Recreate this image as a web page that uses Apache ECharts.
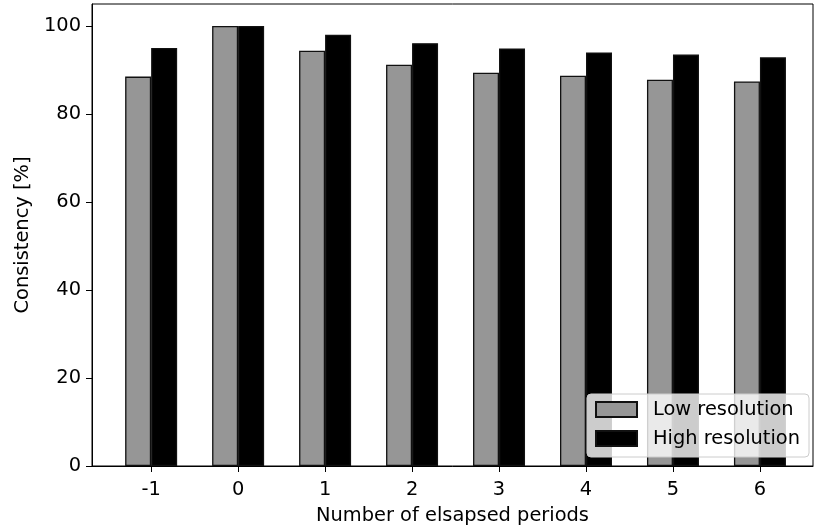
<!DOCTYPE html>
<html>
<head>
<meta charset="utf-8">
<script src="https://cdn.jsdelivr.net/npm/echarts@6/dist/echarts.min.js"></script>
<style>html,body{margin:0;padding:0;background:#fff;}#c{width:814px;height:530px;}</style>
</head>
<body>
<div id="c"></div>
<script>
const categories = [-1, 0, 1, 2, 3, 4, 5, 6];
const lowRes = [88.5, 100, 94.4, 91.2, 89.4, 88.7, 87.8, 87.4];
const highRes = [95.0, 100, 98.0, 96.1, 94.9, 94.0, 93.5, 92.9];
const yTicks = [0, 20, 40, 60, 80, 100];

const font = 'DejaVu Sans';
const fs = 19.4;
const chart = echarts.init(document.getElementById('c'), null, {renderer: 'canvas'});
chart.setOption({
  animation: false,
  backgroundColor: '#fff',
  textStyle: {fontFamily: font},
  grid: {left: 92, right: 1, top: 4, bottom: 64, show: true, borderColor: '#000', borderWidth: 1, containLabel: false},
  xAxis: {
    type: 'value', min: -1.68, max: 6.61,
    name: 'Number of elsapsed periods', nameLocation: 'middle', nameGap: 40,
    nameTextStyle: {fontFamily: font, fontSize: fs, color: '#000'},
    axisLine: {show: true, onZero: false, lineStyle: {color: '#000', width: 1}},
    axisTick: {show: true, length: 6, lineStyle: {color: '#000'}, customValues: categories},
    axisLabel: {fontFamily: font, fontSize: fs, color: '#000', margin: 14, customValues: categories},
    splitLine: {show: false}
  },
  yAxis: {
    type: 'value', min: 0, max: 105,
    name: 'Consistency [%]', nameLocation: 'middle', nameGap: 60,
    nameTextStyle: {fontFamily: font, fontSize: fs, color: '#000'},
    axisLine: {show: true, onZero: false, lineStyle: {color: '#000', width: 1}},
    axisTick: {show: true, length: 6, lineStyle: {color: '#000'}, customValues: yTicks},
    axisLabel: {fontFamily: font, fontSize: fs, color: '#000', margin: 11, customValues: yTicks},
    splitLine: {show: false}
  },
  legend: {
    orient: 'vertical', right: 5, bottom: 73,
    padding: [6, 9, 9, 8], itemGap: 10, itemWidth: 41, itemHeight: 15,
    icon: 'rect',
    backgroundColor: 'rgba(255,255,255,0.8)', borderColor: '#cccccc', borderWidth: 1, borderRadius: 4,
    textStyle: {fontFamily: font, fontSize: fs, color: '#000', lineHeight: 19, padding: [0, 0, 0, 11]},
    data: ['Low resolution', 'High resolution']
  },
  series: [
    {name: 'Low resolution', type: 'bar', barWidth: 26, barGap: '0%',
     itemStyle: {color: '#969696', borderColor: '#111', borderWidth: 1.3},
     data: categories.map((c, i) => [c, lowRes[i]])},
    {name: 'High resolution', type: 'bar', barWidth: 26, barGap: '0%',
     itemStyle: {color: '#000', borderColor: '#111', borderWidth: 1.3},
     data: categories.map((c, i) => [c, highRes[i]])}
  ]
});
</script>
</body>
</html>
